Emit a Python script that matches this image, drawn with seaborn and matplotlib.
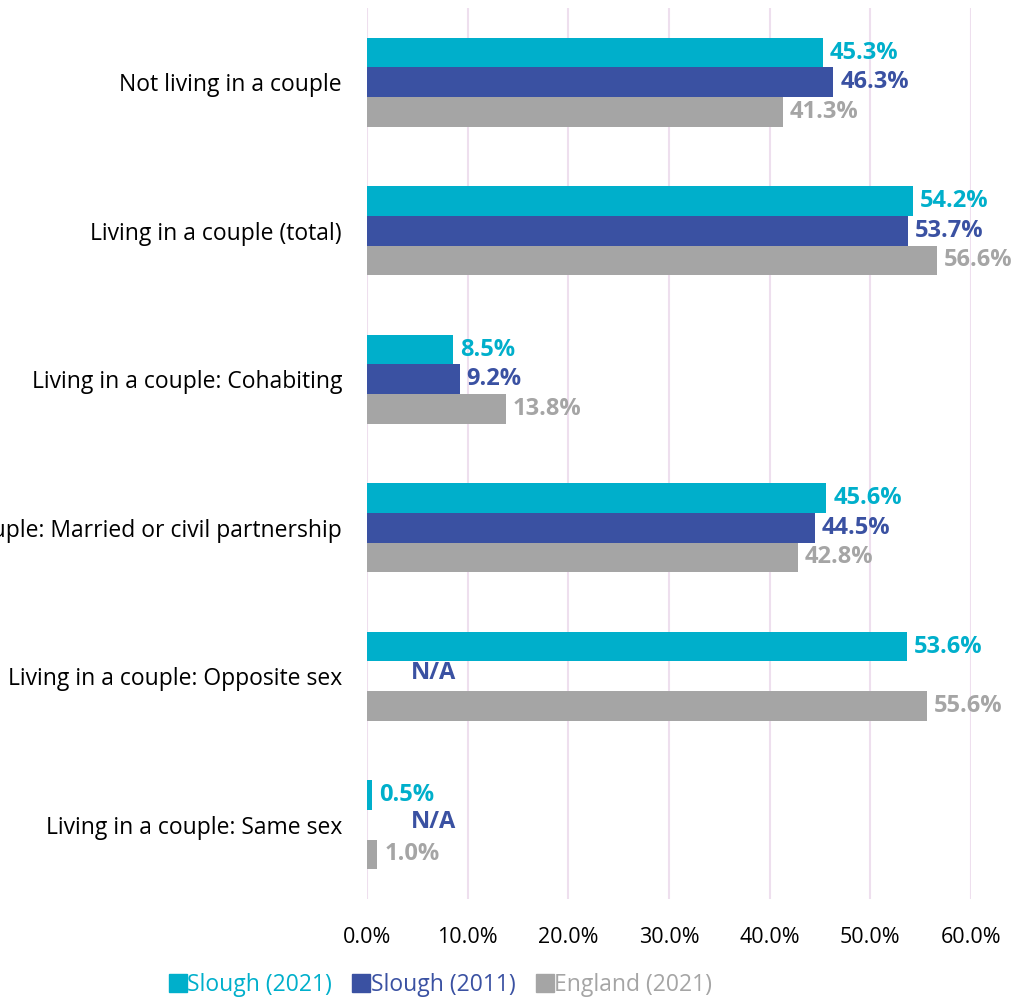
import pandas as pd
import numpy as np
import matplotlib
matplotlib.use("Agg")
import matplotlib.pyplot as plt
import seaborn as sns

categories = [
    "Not living in a couple",
    "Living in a couple (total)",
    "Living in a couple: Cohabiting",
    "Living in a couple: Married or civil partnership",
    "Living in a couple: Opposite sex",
    "Living in a couple: Same sex",
]
series = ["Slough (2021)", "Slough (2011)", "England (2021)"]
slough_2021 = [45.3, 54.2, 8.5, 45.6, 53.6, 0.5]
slough_2011 = [46.3, 53.7, 9.2, 44.5, np.nan, np.nan]
england_2021 = [41.3, 56.6, 13.8, 42.8, 55.6, 1.0]
colors = ["#00AFCB", "#3A51A2", "#A5A5A5"]

rows = []
for s, vals in zip(series, [slough_2021, slough_2011, england_2021]):
    for c, v in zip(categories, vals):
        rows.append({"category": c, "series": s, "value": v})
df = pd.DataFrame(rows)

sns.set_style("white")
plt.rcParams["font.family"] = ["Open Sans", "DejaVu Sans"]

fig = plt.figure(figsize=(10.15, 9.98), dpi=100)
ax = fig.add_axes([0.3616, 0.0992, 0.5951, 0.8928])

sns.barplot(data=df, y="category", x="value", hue="series", order=categories,
            hue_order=series, palette=colors, width=0.6, orient="h",
            saturation=1, linewidth=0, ax=ax, legend=False)

ax.set_xlim(0, 60)
ax.set_xticks(range(0, 61, 10))
ax.set_xticklabels([f"{t:.1f}%" for t in range(0, 61, 10)], fontsize=15.5, color="black")
ax.tick_params(axis="y", labelsize=16.5, labelcolor="black", length=0, pad=18)
ax.tick_params(axis="x", length=0, pad=20)
ax.grid(axis="x", color="#EEDFEE", linewidth=1.5)
ax.set_axisbelow(True)
for sp in ax.spines.values():
    sp.set_visible(False)
ax.set_xlabel("")
ax.set_ylabel("")

# value labels
offsets = [-0.2, 0.0, 0.2]
for j, (vals, col) in enumerate(zip([slough_2021, slough_2011, england_2021], colors)):
    for i, v in enumerate(vals):
        y = i + offsets[j]
        if np.isnan(v):
            ax.text(6.65, y - 0.02, "N/A", color=col, fontsize=17, fontweight="bold",
                    ha="center", va="center")
        else:
            ax.text(v + 0.7, y, f"{v:.1f}%", color=col, fontsize=17,
                    fontweight="bold", ha="left", va="center")

# legend
handles = [plt.Line2D([0], [0], marker="s", linestyle="", color=c, markersize=13)
           for c in colors]
leg = fig.legend(handles, series, loc="center", bbox_to_anchor=(0.435, 0.013),
                 ncol=3, frameon=False, fontsize=16.5, handlelength=0.6,
                 handletextpad=0.1, columnspacing=1.0)
for t, c in zip(leg.get_texts(), colors):
    t.set_color(c)

fig.savefig("out.png", dpi=100)
